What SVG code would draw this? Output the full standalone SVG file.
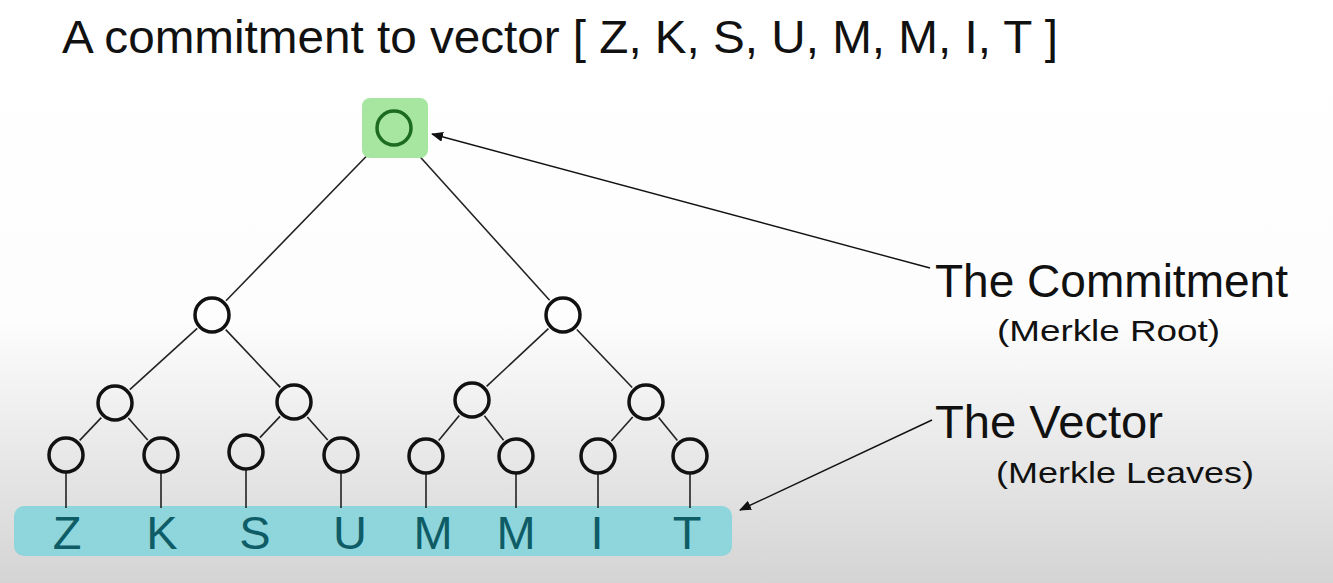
<svg xmlns="http://www.w3.org/2000/svg" width="1333" height="583" viewBox="0 0 1333 583">
<defs>
<linearGradient id="bg" x1="0" y1="0" x2="0" y2="1">
<stop offset="0" stop-color="#ffffff"/>
<stop offset="0.55" stop-color="#fdfdfd"/>
<stop offset="1" stop-color="#d4d4d4"/>
</linearGradient>
<marker id="arr" viewBox="0 0 12 10" refX="11" refY="5" markerWidth="12" markerHeight="10" markerUnits="userSpaceOnUse" orient="auto">
<path d="M0,0 L12,5 L0,10 Z" fill="#111"/>
</marker>
</defs>
<style>
.node{fill:none;stroke:#111;stroke-width:3.5}
.edge{stroke:#222;stroke-width:1.6;fill:none}
.t{font-family:"Liberation Sans",Arial,sans-serif;fill:#111}
.leaf{font-family:"Liberation Sans",Arial,sans-serif;fill:#0e5c66;font-size:47px;text-anchor:middle}
</style>
<rect width="1333" height="583" fill="url(#bg)"/>
<text class="t" x="62" y="53" font-size="47" textLength="996" lengthAdjust="spacingAndGlyphs">A commitment to vector [ Z, K, S, U, M, M, I, T ]</text>

<g id="vector">
<rect x="14" y="506" width="718" height="50" rx="10" fill="#8fd5dc"/>
<text class="leaf" x="67" y="549">Z</text>
<text class="leaf" x="162" y="549">K</text>
<text class="leaf" x="255" y="549">S</text>
<text class="leaf" x="350" y="549">U</text>
<text class="leaf" x="433" y="549">M</text>
<text class="leaf" x="516" y="549">M</text>
<text class="leaf" x="597" y="549">I</text>
<text class="leaf" x="687" y="549">T</text>
</g>

<g id="connectors">
<line class="edge" x1="380" y1="142.3" x2="226" y2="300.7"/>
<line class="edge" x1="407.4" y1="142.8" x2="549.6" y2="300.2"/>
<line class="edge" x1="197.2" y1="328.4" x2="129.8" y2="389.6"/>
<line class="edge" x1="225.7" y1="329.6" x2="280.3" y2="387.4"/>
<line class="edge" x1="548.4" y1="328.7" x2="486.6" y2="386.3"/>
<line class="edge" x1="576.8" y1="329.5" x2="632.2" y2="387.5"/>
<line class="edge" x1="101.3" y1="417.6" x2="79.7" y2="440.4"/>
<line class="edge" x1="128.3" y1="418" x2="147.7" y2="440"/>
<line class="edge" x1="280.1" y1="416.4" x2="259.9" y2="437.6"/>
<line class="edge" x1="307.3" y1="417" x2="327.7" y2="440"/>
<line class="edge" x1="459.3" y1="415.5" x2="438.7" y2="440.5"/>
<line class="edge" x1="484.4" y1="415.7" x2="503.6" y2="440.3"/>
<line class="edge" x1="632.7" y1="417" x2="611.3" y2="441"/>
<line class="edge" x1="658.6" y1="417.5" x2="677.4" y2="440.5"/>
<line class="edge" x1="66" y1="473" x2="66" y2="508"/>
<line class="edge" x1="161" y1="473" x2="161" y2="508"/>
<line class="edge" x1="246" y1="470" x2="246" y2="508"/>
<line class="edge" x1="341" y1="473" x2="341" y2="508"/>
<line class="edge" x1="426" y1="474" x2="426" y2="508"/>
<line class="edge" x1="516" y1="474" x2="516" y2="508"/>
<line class="edge" x1="598" y1="474" x2="598" y2="508"/>
<line class="edge" x1="690" y1="474" x2="690" y2="508"/>
<line stroke="#111" stroke-width="1.4" x1="930" y1="268" x2="432" y2="134" marker-end="url(#arr)"/>
<line stroke="#111" stroke-width="1.4" x1="932" y1="420" x2="740" y2="510" marker-end="url(#arr)"/>
</g>

<g id="root">
<rect x="362" y="98" width="66" height="60" rx="8" fill="#a6e6a0"/>
<circle cx="394" cy="128" r="17" fill="none" stroke="#1d6b23" stroke-width="3.5"/>
</g>
<g id="n1a"><circle class="node" cx="212" cy="315" r="17"/></g>
<g id="n1b"><circle class="node" cx="563" cy="315" r="17"/></g>
<g id="n2a"><circle class="node" cx="115" cy="403" r="17"/></g>
<g id="n2b"><circle class="node" cx="294" cy="402" r="17"/></g>
<g id="n2c"><circle class="node" cx="472" cy="400" r="17"/></g>
<g id="n2d"><circle class="node" cx="646" cy="402" r="17"/></g>
<g id="l1"><circle class="node" cx="66" cy="455" r="17"/></g>
<g id="l2"><circle class="node" cx="161" cy="455" r="17"/></g>
<g id="l3"><circle class="node" cx="246" cy="452" r="17"/></g>
<g id="l4"><circle class="node" cx="341" cy="455" r="17"/></g>
<g id="l5"><circle class="node" cx="426" cy="456" r="17"/></g>
<g id="l6"><circle class="node" cx="516" cy="456" r="17"/></g>
<g id="l7"><circle class="node" cx="598" cy="456" r="17"/></g>
<g id="l8"><circle class="node" cx="690" cy="456" r="17"/></g>

<g id="commitment-label">
<text class="t" x="935" y="297" font-size="46" textLength="353" lengthAdjust="spacingAndGlyphs">The Commitment</text>
<text class="t" x="997" y="341" font-size="30" textLength="223" lengthAdjust="spacingAndGlyphs">(Merkle Root)</text>
</g>
<g id="vector-label">
<text class="t" x="935" y="438" font-size="46" textLength="228" lengthAdjust="spacingAndGlyphs">The Vector</text>
<text class="t" x="996" y="483" font-size="30" textLength="258" lengthAdjust="spacingAndGlyphs">(Merkle Leaves)</text>
</g>
</svg>
